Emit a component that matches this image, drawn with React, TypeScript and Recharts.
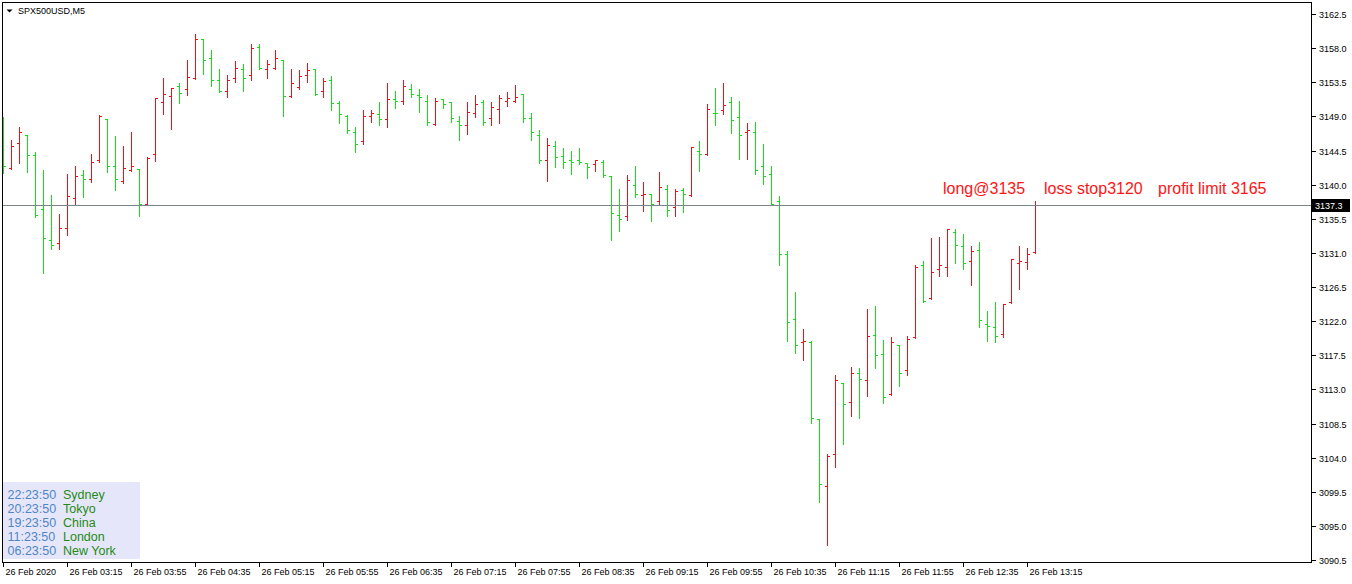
import { Bar, ComposedChart, ReferenceLine, XAxis, YAxis } from 'recharts';

// SPX500USD M5 bars, 26 Feb 2020 02:35 .. 13:20
const opens = [
  3146.0, 3142.2, 3145.5, 3146.5, 3143.9, 3136.8, 3132.7, 3132.3, 3134.3, 3138.3,
  3141.3, 3140.8, 3143.2, 3148.7, 3142.5, 3140.5, 3141.9, 3142.0, 3137.4, 3144.0,
  3150.9, 3151.7, 3153.0, 3152.6, 3154.1, 3159.2, 3156.7, 3153.8, 3152.3, 3154.0,
  3155.3, 3154.5, 3158.2, 3155.3, 3155.4, 3156.5, 3151.7, 3152.9, 3154.4, 3155.3,
  3152.3, 3153.8, 3150.8, 3149.0, 3147.0, 3145.8, 3149.0, 3149.3, 3148.7, 3151.3,
  3151.0, 3152.6, 3151.8, 3151.0, 3148.0, 3151.3, 3150.9, 3148.4, 3147.8, 3149.5,
  3150.9, 3148.8, 3150.0, 3151.0, 3151.0, 3152.0, 3148.8, 3146.5, 3143.3, 3145.1,
  3143.8, 3143.3, 3143.3, 3142.8, 3142.7, 3143.0, 3141.1, 3136.0, 3135.8, 3140.0,
  3138.6, 3138.7, 3137.9, 3139.4, 3137.1, 3139.3, 3138.6, 3144.5, 3144.0, 3149.5,
  3149.8, 3150.9, 3148.9, 3146.9, 3146.9, 3142.4, 3141.4, 3137.9, 3130.9, 3122.3,
  3119.2, 3119.3, 3109.1, 3100.2, 3104.5, 3113.9, 3111.3, 3115.1, 3114.2, 3120.2,
  3117.7, 3112.4, 3118.8, 3115.5, 3119.9, 3129.4, 3125.1, 3128.9, 3129.1, 3133.7,
  3131.9, 3129.9, 3131.4, 3121.6, 3121.2, 3120.3, 3124.5, 3129.6, 3129.8, 3131.1,
];
const highs = [
  3148.9, 3145.9, 3147.6, 3146.5, 3144.3, 3141.9, 3138.6, 3136.1, 3141.4, 3142.5,
  3141.9, 3144.1, 3149.2, 3148.7, 3146.4, 3145.1, 3146.9, 3142.0, 3143.6, 3151.4,
  3154.0, 3152.8, 3153.4, 3156.5, 3159.8, 3159.2, 3157.8, 3155.3, 3154.5, 3156.3,
  3155.9, 3158.5, 3158.5, 3156.5, 3157.8, 3156.5, 3155.3, 3155.1, 3156.1, 3155.3,
  3154.0, 3154.3, 3151.0, 3149.2, 3147.6, 3149.8, 3149.8, 3150.9, 3153.4, 3152.3,
  3153.8, 3153.3, 3152.6, 3151.8, 3151.4, 3151.3, 3150.9, 3149.0, 3150.9, 3151.8,
  3151.1, 3150.9, 3151.8, 3152.2, 3153.1, 3152.0, 3149.5, 3147.2, 3146.1, 3145.8,
  3144.8, 3144.5, 3144.8, 3142.8, 3143.3, 3143.3, 3141.1, 3139.4, 3141.3, 3142.4,
  3140.3, 3138.8, 3141.6, 3139.9, 3139.4, 3139.5, 3144.9, 3145.8, 3150.6, 3152.8,
  3153.4, 3151.5, 3151.0, 3148.1, 3148.3, 3145.3, 3142.4, 3138.5, 3131.3, 3125.9,
  3120.9, 3119.4, 3109.1, 3104.5, 3114.9, 3113.9, 3115.9, 3115.8, 3123.6, 3124.0,
  3119.5, 3119.9, 3118.9, 3120.1, 3129.4, 3129.9, 3132.9, 3133.1, 3134.2, 3134.1,
  3133.5, 3131.9, 3132.5, 3123.4, 3124.5, 3124.2, 3130.2, 3131.9, 3131.6, 3137.9,
];
const lows = [
  3141.6, 3142.2, 3143.0, 3141.8, 3135.8, 3128.5, 3131.6, 3131.6, 3133.5, 3137.4,
  3138.5, 3140.5, 3143.1, 3141.8, 3139.4, 3140.3, 3141.9, 3136.0, 3137.4, 3143.2,
  3149.4, 3147.5, 3150.9, 3151.9, 3154.0, 3154.7, 3153.1, 3152.3, 3151.7, 3153.7,
  3152.5, 3153.9, 3155.4, 3154.2, 3155.4, 3149.2, 3151.7, 3152.8, 3153.7, 3152.0,
  3151.7, 3150.0, 3148.3, 3146.9, 3144.4, 3145.5, 3148.4, 3148.0, 3147.7, 3150.3,
  3150.8, 3151.7, 3149.7, 3148.0, 3148.0, 3150.3, 3148.4, 3146.0, 3146.8, 3149.0,
  3148.0, 3148.0, 3148.3, 3150.5, 3151.0, 3148.4, 3146.0, 3143.0, 3140.6, 3142.5,
  3142.3, 3141.5, 3142.8, 3141.0, 3141.9, 3141.1, 3132.8, 3134.0, 3135.5, 3138.5,
  3136.7, 3135.4, 3137.4, 3136.0, 3136.0, 3136.5, 3138.6, 3141.9, 3144.0, 3148.0,
  3149.4, 3147.0, 3143.5, 3143.5, 3141.5, 3140.2, 3137.5, 3129.5, 3119.5, 3117.9,
  3117.0, 3108.7, 3098.3, 3092.6, 3102.9, 3105.9, 3109.6, 3109.4, 3112.2, 3116.0,
  3111.3, 3112.4, 3113.6, 3115.0, 3119.9, 3124.7, 3125.1, 3128.1, 3128.1, 3129.8,
  3129.0, 3126.9, 3121.4, 3119.5, 3119.4, 3120.0, 3124.5, 3126.4, 3129.0, 3131.1,
];
const closes = [
  3142.5, 3145.1, 3147.0, 3143.9, 3136.0, 3132.9, 3132.1, 3134.3, 3138.5, 3141.1,
  3140.8, 3143.0, 3149.0, 3142.5, 3140.8, 3142.2, 3142.5, 3137.5, 3143.5, 3151.4,
  3152.0, 3152.8, 3152.1, 3154.2, 3159.2, 3156.5, 3153.8, 3152.3, 3153.8, 3155.4,
  3154.1, 3158.0, 3155.4, 3155.9, 3156.7, 3151.7, 3153.4, 3154.3, 3155.1, 3152.0,
  3153.7, 3150.8, 3149.3, 3147.2, 3145.3, 3149.0, 3149.5, 3148.7, 3151.3, 3151.0,
  3153.0, 3152.0, 3151.5, 3148.3, 3151.0, 3150.6, 3148.8, 3147.8, 3149.6, 3150.6,
  3148.3, 3150.3, 3151.4, 3151.4, 3151.6, 3148.8, 3147.0, 3143.3, 3145.2, 3143.6,
  3143.0, 3143.0, 3143.0, 3142.3, 3143.3, 3141.3, 3136.3, 3135.5, 3140.6, 3138.8,
  3138.8, 3137.4, 3139.7, 3136.7, 3139.1, 3138.8, 3144.9, 3144.0, 3150.0, 3149.4,
  3150.5, 3148.5, 3146.5, 3147.2, 3141.9, 3141.1, 3137.5, 3130.8, 3121.9, 3118.8,
  3119.4, 3109.2, 3100.5, 3104.2, 3114.3, 3111.1, 3115.2, 3114.4, 3120.0, 3117.5,
  3112.0, 3119.2, 3115.1, 3119.6, 3129.1, 3124.7, 3128.5, 3129.4, 3134.1, 3132.1,
  3129.6, 3131.2, 3122.1, 3121.4, 3120.0, 3124.2, 3130.2, 3129.9, 3130.9, 3137.3,
];

const timeTicks = [0, 8, 16, 24, 32, 40, 48, 56, 64, 72, 80, 88, 96, 104, 112, 120, 128];
const timeLabels = [
  '26 Feb 2020', '26 Feb 03:15', '26 Feb 03:55', '26 Feb 04:35', '26 Feb 05:15',
  '26 Feb 05:55', '26 Feb 06:35', '26 Feb 07:15', '26 Feb 07:55', '26 Feb 08:35',
  '26 Feb 09:15', '26 Feb 09:55', '26 Feb 10:35', '26 Feb 11:15', '26 Feb 11:55',
  '26 Feb 12:35', '26 Feb 13:15',
];
const priceTicks = [
  3090.5, 3095.0, 3099.5, 3104.0, 3108.5, 3113.0, 3117.5, 3122.0, 3126.5,
  3131.0, 3135.5, 3140.0, 3144.5, 3149.0, 3153.5, 3158.0, 3162.5,
];
const lastPrice = 3137.3;
const notes = ['long@3135', 'loss stop3120', 'profit limit 3165'];
const sessionTimes = ['22:23:50', '20:23:50', '19:23:50', '11:23:50', '06:23:50'];
const sessionCities = ['Sydney', 'Tokyo', 'China', 'London', 'New York'];

const data = opens.map((open, i) => ({
  i,
  open,
  high: highs[i],
  low: lows[i],
  close: closes[i],
}));

const UP = '#f01212';
const DOWN = '#12e012';
const FONT = "'Liberation Sans', Arial, sans-serif";

function OhlcBar(props: any) {
  const { x, y, width, height, payload } = props;
  if (x == null || y == null || !payload) return null;
  const { open, high, low, close } = payload;
  const top = Math.min(y, y + height);
  const bot = Math.max(y, y + height);
  const span = high - low;
  const py = (v: number) => (span === 0 ? top : top + ((high - v) / span) * (bot - top));
  const cx = Math.round(x + width / 2 - 0.5) + 0.5;
  const oy = Math.floor(py(open)) + 0.5;
  const cy = Math.floor(py(close)) + 0.5;
  const color = close > open ? UP : DOWN;
  return (
    <g stroke={color} strokeWidth={1} shapeRendering="crispEdges">
      <line x1={cx} y1={Math.floor(top)} x2={cx} y2={Math.ceil(bot) + 1} />
      <line x1={cx - 2.5} y1={oy} x2={cx + 0.5} y2={oy} />
      <line x1={cx - 0.5} y1={cy} x2={cx + 2.5} y2={cy} />
    </g>
  );
}

function TimeTick(props: any) {
  const { x, y, payload } = props;
  const label = timeLabels[timeTicks.indexOf(payload.value)];
  return (
    <g>
      <line x1={x} y1={y} x2={x} y2={y + 4} stroke="#000" shapeRendering="crispEdges" />
      <text x={x + 2} y={y + 12.5} fontSize={9} fontFamily={FONT} fill="#000">
        {label}
      </text>
    </g>
  );
}

function PriceTick(props: any) {
  const { x, y, payload } = props;
  return (
    <g>
      <line x1={x} y1={y} x2={x + 4} y2={y} stroke="#000" shapeRendering="crispEdges" />
      <text x={x + 7.5} y={y + 3.5} fontSize={9} fontFamily={FONT} fill="#000">
        {Number(payload.value).toFixed(1)}
      </text>
    </g>
  );
}

export default function App() {
  return (
    <div style={{ position: 'absolute', left: 0, top: 0, width: 1352, height: 584, background: '#fff' }}>
      <ComposedChart
        width={1352}
        height={584}
        data={data}
        margin={{ top: 2.5, right: 0, bottom: 0, left: 2.5 }}
      >
        <XAxis
          type="number"
          dataKey="i"
          domain={[-0.125, 163.5]}
          ticks={timeTicks}
          interval={0}
          allowDataOverflow
          axisLine={false}
          tickLine={false}
          tickSize={0}
          tickMargin={0}
          height={21.5}
          tick={<TimeTick />}
        />
        <YAxis
          orientation="right"
          type="number"
          domain={[3090.236, 3164.084]}
          ticks={priceTicks}
          interval={0}
          allowDataOverflow
          axisLine={false}
          tickLine={false}
          tickSize={0}
          tickMargin={0}
          width={40.5}
          tick={<PriceTick />}
        />
        <ReferenceLine y={lastPrice} stroke="#7c848c" strokeWidth={1} shapeRendering="crispEdges" />
        <Bar
          dataKey={(d: any) => [d.low, d.high]}
          barSize={5}
          shape={<OhlcBar />}
          isAnimationActive={false}
        />
      </ComposedChart>

      <svg
        width={1352}
        height={584}
        style={{ position: 'absolute', left: 0, top: 0, pointerEvents: 'none' }}
      >
        {/* plot frame */}
        <rect x={2.5} y={2.5} width={1309} height={560} fill="none" stroke="#000" shapeRendering="crispEdges" />

        {/* symbol title */}
        <polygon points="6.5,9.5 12.5,9.5 9.5,12.5" fill="#000" />
        <text x={18} y={14} fontSize={9} fontFamily={FONT} fill="#000">SPX500USD,M5</text>

        {/* last price tag */}
        <rect x={1312} y={199} width={38} height={13} fill="#000" />
        <text x={1315} y={209} fontSize={9} fontFamily={FONT} fill="#fff">
          {lastPrice.toFixed(1)}
        </text>

        {/* trade notes */}
        <text x={943} y={194} fontSize={16} fontFamily={FONT} fill="#ff1414">{notes[0]}</text>
        <text x={1044} y={194} fontSize={16} fontFamily={FONT} fill="#ff1414">{notes[1]}</text>
        <text x={1158} y={194} fontSize={16} fontFamily={FONT} fill="#ff1414">{notes[2]}</text>

        {/* session clocks */}
        <rect x={3} y={482} width={137} height={77} fill="#e6e6fa" />
        {sessionTimes.map((t, k) => (
          <g key={t + k}>
            <text x={7.5} y={498.5 + k * 14} fontSize={12.5} fontFamily={FONT} fill="#4f86c4">{t}</text>
            <text x={63} y={498.5 + k * 14} fontSize={12.5} fontFamily={FONT} fill="#1f8a14">{sessionCities[k]}</text>
          </g>
        ))}
      </svg>
    </div>
  );
}
